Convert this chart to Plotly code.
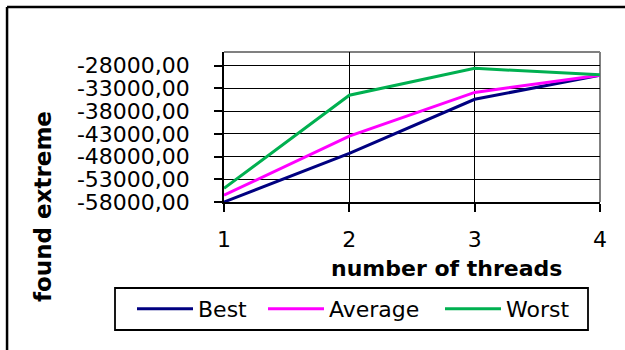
import plotly.graph_objects as go

# Threads used for the search and the extreme value found with each
threads = [1, 2, 3, 4]
best = [-58000, -47300, -35400, -30100]
average = [-56500, -43500, -33900, -30100]
worst = [-55000, -34500, -28600, -30000]

series_names = ["Best", "Average", "Worst"]
series_colors = ["#000080", "#FF00FF", "#00B050"]

y_ticks = [-58000, -53000, -48000, -43000, -38000, -33000, -28000]
y_tick_labels = ["-58000,00", "-53000,00", "-48000,00", "-43000,00",
                 "-38000,00", "-33000,00", "-28000,00"]
x_tick_labels = ["1", "2", "3", "4"]

FONT = "DejaVu Sans"
W, H = 625, 350

# Left edge of each legend entry, in pixels of the figure
legend_left_px = [132, 263, 440]
legend_keys = ["legend", "legend2", "legend3"]

fig = go.Figure()
for name, vals, color, lg in zip(series_names, [best, average, worst],
                                 series_colors, legend_keys):
    fig.add_trace(go.Scatter(x=threads, y=vals, name=name, mode="lines",
                             line=dict(color=color, width=3), legend=lg))

legend_style = dict(orientation="h", xref="container", yref="container",
                    y=(H - 288) / H, xanchor="left", yanchor="top",
                    borderwidth=0, bgcolor="rgba(0,0,0,0)",
                    font=dict(family=FONT, size=22), itemwidth=56)
legend_layout = {k: dict(legend_style, x=px / W)
                 for k, px in zip(legend_keys, legend_left_px)}

fig.update_layout(
    width=W, height=H, autosize=False,
    margin=dict(l=224, r=25, t=52, b=148),
    paper_bgcolor="white", plot_bgcolor="white",
    font=dict(family=FONT, size=22, color="black"),
    showlegend=True,
    **legend_layout,
)

fig.update_xaxes(
    range=[1, 4], tickvals=threads, ticktext=x_tick_labels,
    showgrid=True, gridcolor="black", gridwidth=1,
    showline=True, linecolor="black", linewidth=1.5,
    ticks="outside", ticklen=8, tickcolor="black", tickwidth=1.5,
    ticklabelstandoff=9, zeroline=False,
)
fig.update_yaxes(
    range=[-58000, -25000], tickvals=y_ticks, ticktext=y_tick_labels,
    showgrid=True, gridcolor="black", gridwidth=1,
    showline=True, linecolor="black", linewidth=1.5,
    ticks="outside", ticklen=8, tickcolor="black", tickwidth=1.5,
    ticklabelstandoff=20, zeroline=False,
)

# Gray frame on the open sides of the plot area
fig.add_shape(type="line", xref="paper", yref="paper", x0=0, x1=1, y0=1, y1=1,
              line=dict(color="#808080", width=2), layer="between")
fig.add_shape(type="line", xref="paper", yref="paper", x0=1, x1=1, y0=0, y1=1,
              line=dict(color="#808080", width=2), layer="between")

# Chart area frame (left and top edges)
fig.add_shape(type="line", xref="paper", yref="paper", x0=-0.577, x1=-0.577,
              y0=-1.1, y1=1.3, line=dict(color="black", width=2.5))
fig.add_shape(type="line", xref="paper", yref="paper", x0=-0.577, x1=1.2,
              y0=1.3, y1=1.3, line=dict(color="black", width=2.5))

# Box around the legend entries
fig.add_shape(type="rect", xref="paper", yref="paper",
              x0=(115 - 224) / 376, x1=(588 - 224) / 376,
              y0=(202 - 330) / 150, y1=(202 - 288) / 150,
              line=dict(color="black", width=1.8), fillcolor="rgba(0,0,0,0)",
              layer="below")

fig.add_annotation(text="<b>number of threads</b>", xref="paper", yref="paper",
                   x=0.593, y=-0.44, showarrow=False,
                   font=dict(family=FONT, size=22), xanchor="center", yanchor="middle")
fig.add_annotation(text="<b>found extreme</b>", xref="paper", yref="paper",
                   x=(43 - 224) / 376, y=(202 - 207) / 150, textangle=-90,
                   showarrow=False, font=dict(family=FONT, size=23),
                   xanchor="center", yanchor="middle")

fig.write_html("out.html")
